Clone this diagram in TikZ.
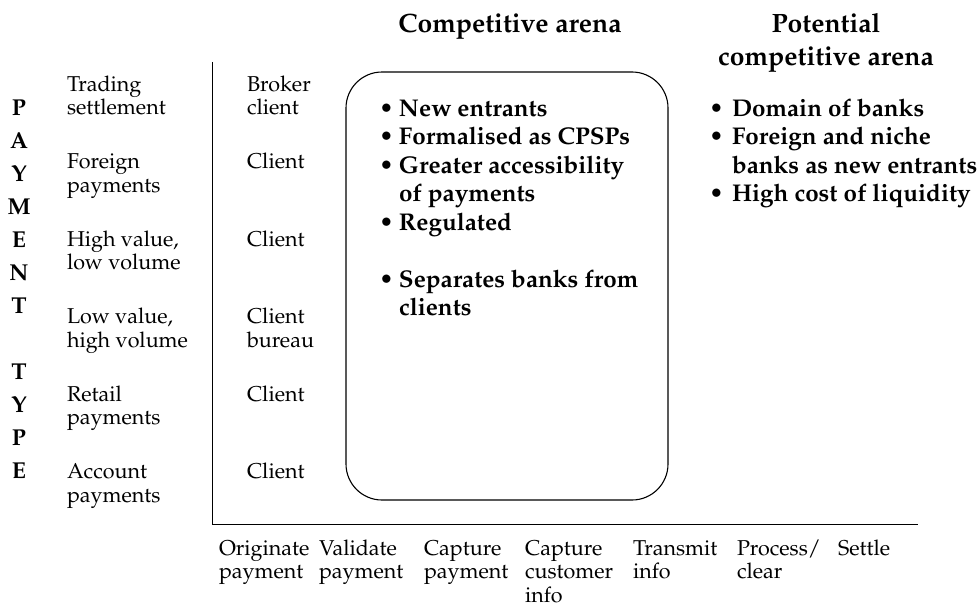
\documentclass[tikz,border=0pt]{standalone}
\usepackage[T1]{fontenc}
\usepackage{mathpazo}
\newcommand\regf{\fontsize{21.5}{23.5}\selectfont}
\newcommand\bulf{\fontsize{24.2}{28.5}\selectfont\bfseries}
\newcommand\titf{\fontsize{26.5}{33}\selectfont\bfseries}
\newcommand\letf{\fontsize{23}{33}\selectfont\bfseries}
\newcommand\bitem[1]{\makebox[#1][l]{\textbullet}}
\begin{document}
\begin{tikzpicture}[x=1pt,y=-1pt,
  every node/.style={inner sep=0pt, outer sep=0pt},
  lab/.style={anchor=north west, align=left, font=\regf, yshift=16.45pt},
  bul/.style={anchor=north west, align=left, font=\bulf, yshift=19.95pt},
  title/.style={anchor=north, align=center, font=\titf, yshift=23.1pt},
  letters/.style={anchor=north, align=center, font=\letf, yshift=23.1pt},
  axis/.style={line width=1pt},
  arenabox/.style={draw, line width=1.1pt, rounded corners=36pt, anchor=north west}]
\fill[white] (0,0) rectangle (979,610);
% titles
\node[title] (t1) at (510,33) {\strut Competitive arena};
\node[title] (t2) at (826,33) {\strut Potential\\competitive arena};
% vertical word
\node[letters] (pt) at (19,115) {\strut P\\A\\Y\\M\\E\\N\\T\\[33pt]T\\Y\\P\\E};
% payment types
\node[lab] (r1) at (67,91) {\strut Trading\\settlement};
\node[lab] (r2) at (67,168.5) {\strut Foreign\\payments};
\node[lab] (r3) at (67,246) {\strut High value,\\low volume};
\node[lab] (r4) at (67,323.5) {\strut Low value,\\high volume};
\node[lab] (r5) at (67,401) {\strut Retail\\payments};
\node[lab] (r6) at (67,478.5) {\strut Account\\payments};
% originators
\node[lab] (c1) at (247,91) {\strut Broker\\client};
\node[lab] (c2) at (247,168.5) {\strut Client};
\node[lab] (c3) at (247,246) {\strut Client};
\node[lab] (c4) at (247,323.5) {\strut Client\\bureau};
\node[lab] (c5) at (247,401) {\strut Client};
\node[lab] (c6) at (247,478.5) {\strut Client};
% axes
\coordinate (yt) at (212,62);
\coordinate (o) at (212,524);
\coordinate (xe) at (918,524);
\draw[axis] (yt) -- (o) -- (xe);
% process steps
\node[lab] (s1) at (219,555) {\strut Originate\\payment};
\node[lab] (s2) at (319,555) {\strut Validate\\payment};
\node[lab] (s3) at (424,555) {\strut Capture\\payment};
\node[lab] (s4) at (525,555) {\strut Capture\\customer\\info};
\node[lab] (s5) at (633,555) {\strut Transmit\\info};
\node[lab] (s6) at (737,555) {\strut Process/\\clear};
\node[lab] (s7) at (838,555) {\strut Settle};
% competitive arena box
\node[arenabox, minimum width=322pt, minimum height=428pt] (arena) at (346,72) {};
\node[bul] (a1) at (379,116) {\strut\bitem{20pt}New entrants\\
  \bitem{20pt}Formalised as CPSPs\\
  \bitem{20pt}Greater accessibility\\
  \hspace*{20pt}of payments\\
  \bitem{20pt}Regulated\\[28.5pt]
  \bitem{20pt}Separates banks from\\
  \hspace*{20pt}clients};
% potential arena
\node[bul] (p1) at (709,116) {\strut\bitem{23pt}Domain of banks\\
  \bitem{23pt}Foreign and niche\\
  \hspace*{23pt}banks as new entrants\\
  \bitem{23pt}High cost of liquidity};
\end{tikzpicture}
\end{document}
